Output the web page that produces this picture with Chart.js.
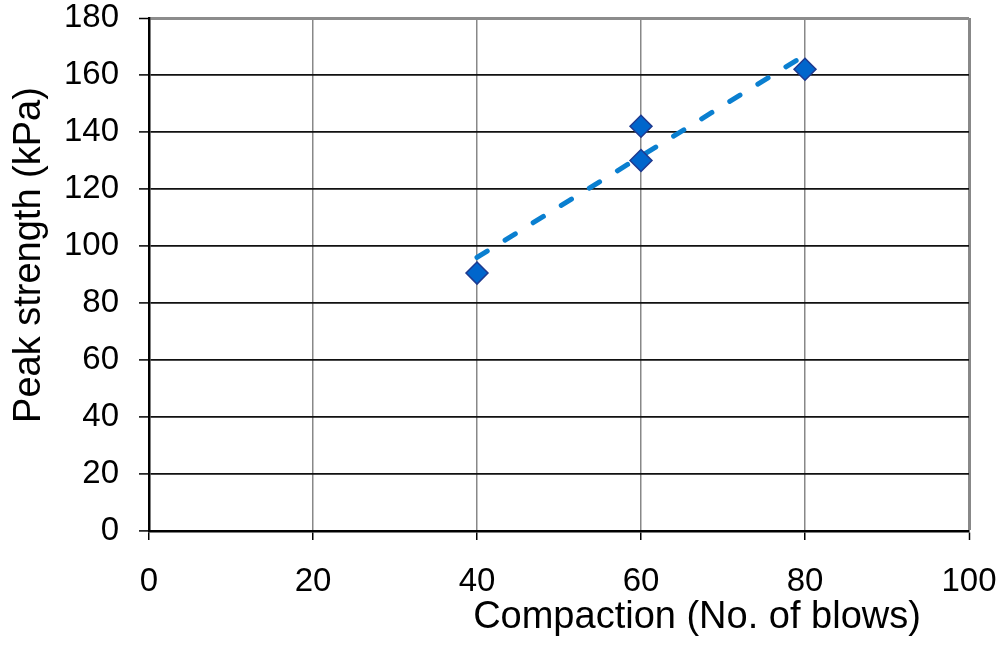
<!DOCTYPE html>
<html>
<head>
<meta charset="utf-8">
<script src="https://cdn.jsdelivr.net/npm/chart.js@4"></script>
<style>
  html, body { margin: 0; padding: 0; background: #fff; }
  #wrap { width: 1000px; height: 657px; }
</style>
</head>
<body>
<div id="wrap"><canvas id="chart" width="1000" height="657"></canvas></div>
<script>
// measured points
const blows = [40, 60, 60, 80];
const peakStrength = [90.5, 142, 130, 162];
// trend line ends
const trendX = [40, 80];
const trendY = [96, 167];
const xTicks = [0, 20, 40, 60, 80, 100];
const yTicks = [0, 20, 40, 60, 80, 100, 120, 140, 160, 180];

const FONT = "'Liberation Sans', Arial, sans-serif";

const axisTitles = {
  id: 'axisTitles',
  afterDraw(chart) {
    const ctx = chart.ctx;
    ctx.save();
    ctx.fillStyle = '#000';
    ctx.font = '38px ' + FONT;
    ctx.textAlign = 'center';
    ctx.textBaseline = 'alphabetic';
    ctx.fillText('Compaction (No. of blows)', 697, 628);
    ctx.translate(40, 255);
    ctx.rotate(-Math.PI / 2);
    ctx.fillText('Peak strength (kPa)', 0, 0);
    ctx.restore();
  }
};

// keep the plot area where the layout padding puts it
function noLabelPadding(s) {
  s.paddingTop = 0; s.paddingBottom = 0; s.paddingLeft = 0; s.paddingRight = 0;
}

new Chart(document.getElementById('chart').getContext('2d'), {
  type: 'scatter',
  data: {
    datasets: [
      {
        label: 'Trend',
        type: 'line',
        data: trendX.map((x, i) => ({ x: x, y: trendY[i] })),
        borderColor: '#0a7fd0',
        borderWidth: 5,
        borderDash: [12, 21],
        borderCapStyle: 'round',
        pointRadius: 0,
        fill: false,
        order: 2
      },
      {
        label: 'Peak strength',
        data: blows.map((x, i) => ({ x: x, y: peakStrength[i] })),
        pointStyle: 'rectRot',
        pointRadius: 11,
        backgroundColor: '#0066cc',
        borderColor: '#1f3a8f',
        borderWidth: 1.5,
        order: 1
      }
    ]
  },
  options: {
    responsive: false,
    animation: false,
    layout: { padding: { left: 0, top: 18, right: 31, bottom: 0 } },
    plugins: { legend: { display: false }, tooltip: { enabled: false } },
    scales: {
      x: {
        type: 'linear',
        min: 0, max: 100,
        afterBuildTicks(s) { s.ticks = xTicks.map(v => ({ value: v })); },
        afterFit(s) { s.height = 126; noLabelPadding(s); },
        grid: {
          color: '#888',
          lineWidth: c => c.tick && c.tick.value === 100 ? 3 : 1.5,
          tickColor: '#000',
          tickLength: 9,
          tickWidth: 1.5
        },
        border: { color: '#000', width: 2.5 },
        ticks: { color: '#000', font: { family: FONT, size: 33 }, padding: 22, maxRotation: 0 }
      },
      y: {
        type: 'linear',
        min: 0, max: 180,
        afterBuildTicks(s) { s.ticks = yTicks.map(v => ({ value: v })); },
        afterFit(s) { s.width = 149; noLabelPadding(s); },
        grid: {
          color: c => c.tick && c.tick.value === 180 ? '#8c8c8c' : '#111',
          lineWidth: c => c.tick && c.tick.value === 180 ? 3 : 1.8,
          tickColor: '#000',
          tickLength: 10,
          tickWidth: 1.5
        },
        border: { color: '#000', width: 2.5 },
        ticks: { color: '#000', font: { family: FONT, size: 33 }, padding: 20 }
      }
    }
  },
  plugins: [axisTitles]
});
</script>
</body>
</html>
